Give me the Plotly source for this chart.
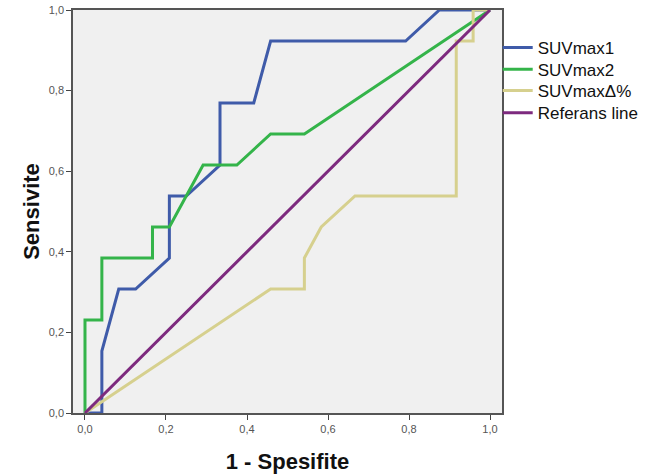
import plotly.graph_objects as go

# ROC curves (1 - specificity, sensitivity); 24 negatives, 13 positives
suv1_x = [0, 1/24, 1/24, 2/24, 3/24, 5/24, 5/24, 6/24, 8/24, 8/24, 10/24, 11/24, 19/24, 21/24, 1]
suv1_y = [0, 0, 2/13, 4/13, 4/13, 5/13, 7/13, 7/13, 8/13, 10/13, 10/13, 12/13, 12/13, 1, 1]

suv2_x = [0, 0, 1/24, 1/24, 4/24, 4/24, 5/24, 7/24, 9/24, 11/24, 13/24, 1]
suv2_y = [0, 3/13, 3/13, 5/13, 5/13, 6/13, 6/13, 8/13, 8/13, 9/13, 9/13, 1]

suvd_x = [0, 11/24, 13/24, 13/24, 14/24, 16/24, 22/24, 22/24, 23/24, 23/24, 1]
suvd_y = [0, 4/13, 4/13, 5/13, 6/13, 7/13, 7/13, 12/13, 12/13, 1, 1]

ref_x = [0, 1]
ref_y = [0, 1]

names = ["SUVmax1", "SUVmax2", "SUVmaxΔ%", "Referans line"]
colors = ["#3F5BA9", "#34B44A", "#D6D08E", "#7D2A7E"]

legend_ids = ["legend", "legend2", "legend3", "legend4"]
legend_y = [0.906, 0.852, 0.799, 0.744]

fig = go.Figure()
for xs, ys, nm, col, lg in zip([suv1_x, suv2_x, suvd_x, ref_x], [suv1_y, suv2_y, suvd_y, ref_y],
                               names, colors, legend_ids):
    fig.add_trace(go.Scatter(x=xs, y=ys, mode="lines", name=nm, legend=lg, showlegend=True,
                             line=dict(color=col, width=3)))

tickvals = [0, 0.2, 0.4, 0.6, 0.8, 1.0]
axis_common = dict(
    tickvals=tickvals, tickformat=".1f", ticks="outside", ticklen=5,
    tickcolor="#444", showline=True, linecolor="#555", linewidth=1.5, mirror=True,
    showgrid=False, zeroline=False, automargin=False,
    tickfont=dict(family="Liberation Sans, Arial", size=11, color="#555"),
)

legend_font = dict(family="Liberation Sans, Arial", size=17, color="#111")
legends = {}
for lg, yy in zip(legend_ids, legend_y):
    legends[lg] = dict(x=0.99, y=yy, xanchor="left", yanchor="middle", visible=True,
                       bgcolor="rgba(0,0,0,0)", font=legend_font)

fig.update_layout(
    width=654, height=474,
    margin=dict(l=73, r=152, t=10, b=61),
    paper_bgcolor="white", plot_bgcolor="#F0F0F0",
    separators=",.",
    showlegend=True,
    xaxis=dict(range=[-0.0296, 1.0296],
               title=dict(text="<b>1 - Spesifite</b>", standoff=20,
                          font=dict(family="Liberation Sans, Arial", size=22, color="#111")),
               **axis_common),
    yaxis=dict(range=[0, 1],
               title=dict(text="<b>Sensivite</b>", standoff=3,
                          font=dict(family="Liberation Sans, Arial", size=22, color="#111")),
               **axis_common),
    **legends,
)

fig.write_html("out.html", config={"displayModeBar": False},
               post_script="document.body.style.margin='0';")
